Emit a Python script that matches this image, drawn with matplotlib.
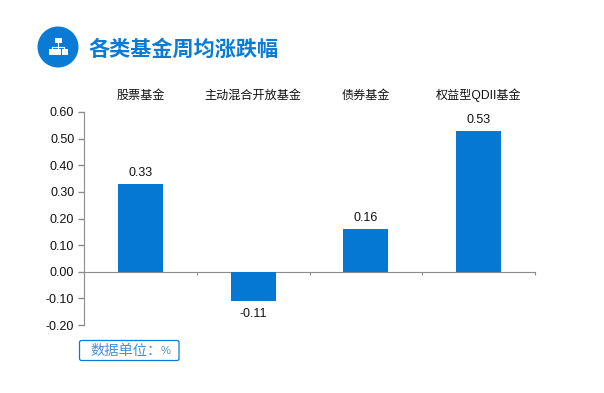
import matplotlib
matplotlib.use("Agg")
import matplotlib.pyplot as plt
from matplotlib.patches import Circle, Rectangle, FancyBboxPatch

plt.rcParams['font.family'] = ['Liberation Sans', 'Noto Sans CJK SC', 'DejaVu Sans']

categories = ['股票基金', '主动混合开放基金', '债券基金', '权益型QDII基金']
values = [0.33, -0.11, 0.16, 0.53]
y_ticks = [-0.20, -0.10, 0.00, 0.10, 0.20, 0.30, 0.40, 0.50, 0.60]
title = '各类基金周均涨跌幅'
unit = '数据单位：'
unit_sign = '%'

BLUE = '#0A7BD4'
BAR = '#0478D2'
GREY = '#8C8C8C'
W, H = 604, 393

fig = plt.figure(figsize=(W / 100, H / 100), dpi=100, facecolor='white')
ax = fig.add_axes([84 / W, 1 - 325 / H, 451 / W, 213 / H])

x = list(range(len(categories)))
ax.bar(x, values, width=0.4, color=BAR, zorder=3)
ax.set_xlim(-0.5, len(categories) - 0.5)
ax.set_ylim(-0.20, 0.60)
ax.set_yticks(y_ticks)
ax.set_yticklabels([f'{v:.2f}' for v in y_ticks], fontsize=9, color='#111111')
ax.tick_params(axis='y', length=4, width=1, color=GREY, pad=3)

for s in ('top', 'right'):
    ax.spines[s].set_visible(False)
ax.spines['left'].set_color(GREY)
ax.spines['bottom'].set_color(GREY)
ax.spines['bottom'].set_position(('data', 0))
ax.set_xticks([i + 0.5 for i in range(-1, len(categories))])
ax.set_xticklabels([])
ax.tick_params(axis='x', length=2, width=0.8, color=GREY, direction='out')

for xi, v in zip(x, values):
    off = 3.6 if v >= 0 else -5
    ax.annotate(f'{v:.2f}', (xi, v), xytext=(0, off), textcoords='offset points',
                ha='center', va='bottom' if v >= 0 else 'top', fontsize=9, color='#111111')

for xi, c in zip(x, categories):
    ax.annotate(c, (xi, 1), xycoords=('data', 'axes fraction'), xytext=(0, 13),
                textcoords='offset pixels', ha='center', va='baseline', fontsize=8.7,
                color='#111111')

# Overlay in pixel coordinates for the header decoration and unit box
ov = fig.add_axes([0, 0, 1, 1], facecolor='none')
ov.set_xlim(0, W)
ov.set_ylim(H, 0)
ov.axis('off')

ov.add_patch(Circle((58, 47), 20.5, color=BLUE, lw=0))
ov.add_patch(Rectangle((54.5, 38), 7, 5, color='white', lw=0))
ov.plot([58, 58], [43, 49], color='white', lw=0.8)
ov.plot([52, 64], [46.5, 46.5], color='white', lw=0.8)
ov.plot([52, 52], [46.5, 49], color='white', lw=0.8)
ov.plot([64, 64], [46.5, 49], color='white', lw=0.8)
for left in (49, 55, 61.5):
    ov.add_patch(Rectangle((left, 49), 6, 5.5, color='white', lw=0))
ov.text(88, 49.5, title, fontsize=15.2, fontweight='bold', color=BLUE,
        ha='left', va='center', family=['Noto Sans CJK SC', 'DejaVu Sans'])

ov.add_patch(FancyBboxPatch((79.5, 340.5), 99.5, 20, boxstyle='round,pad=0,rounding_size=2',
                            fc='white', ec=BLUE, lw=0.9))
ov.text(90, 351, unit, fontsize=10.3, color='#4A90D0', ha='left', va='center',
        family=['Noto Sans CJK SC', 'DejaVu Sans'])
ov.text(161, 351, unit_sign, fontsize=8, color='#4A90D0', ha='left', va='center')

fig.savefig('out.png', dpi=100)
